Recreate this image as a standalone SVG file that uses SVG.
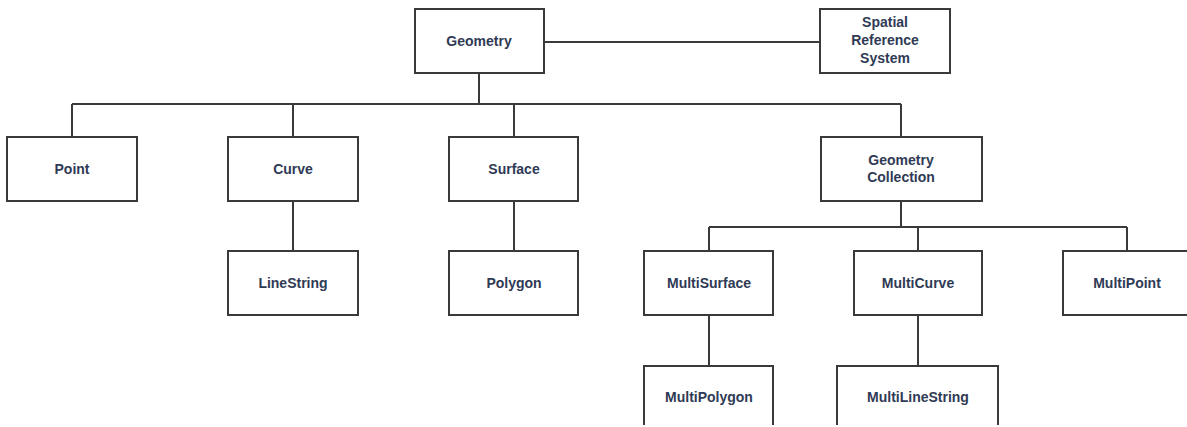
<svg xmlns="http://www.w3.org/2000/svg" width="1187" height="427" viewBox="0 0 1187 427">
<style>
.box{fill:#fff;stroke:#3a3a3a;stroke-width:2}
.edge{fill:none;stroke:#3a3a3a;stroke-width:2}
.lbl{font-family:"Liberation Sans",Arial,sans-serif;font-weight:bold;font-size:14px;fill:#2f3a55;text-anchor:middle;dominant-baseline:central}
</style>
<rect width="1187" height="427" fill="#fff"/>
<g id="connectors">
<path class="edge" d="M544 42H820"/>
<path class="edge" d="M479 73V104"/>
<path class="edge" d="M72 104H901"/>
<path class="edge" d="M72 104V137M293 104V137M514 104V137M901 104V137"/>
<path class="edge" d="M293 201V251M514 201V251"/>
<path class="edge" d="M901 201V227M709 227H1127M709 227V251M918 227V251M1127 227V251"/>
<path class="edge" d="M709 315V366M918 315V366"/>
</g>
<g id="geometry"><rect class="box" x="415" y="9" width="129" height="64"/><text class="lbl" x="479" y="41">Geometry</text></g>
<g id="srs"><rect class="box" x="820" y="9" width="130" height="64"/><text class="lbl" x="885" y="22">Spatial</text><text class="lbl" x="885" y="40">Reference</text><text class="lbl" x="885" y="58">System</text></g>
<g id="point"><rect class="box" x="7" y="137" width="130" height="64"/><text class="lbl" x="72" y="169">Point</text></g>
<g id="curve"><rect class="box" x="228" y="137" width="130" height="64"/><text class="lbl" x="293" y="169">Curve</text></g>
<g id="surface"><rect class="box" x="449" y="137" width="129" height="64"/><text class="lbl" x="514" y="169">Surface</text></g>
<g id="geometrycollection"><rect class="box" x="821" y="137" width="161" height="64"/><text class="lbl" x="901" y="160">Geometry</text><text class="lbl" x="901" y="177">Collection</text></g>
<g id="linestring"><rect class="box" x="228" y="251" width="130" height="64"/><text class="lbl" x="293" y="283">LineString</text></g>
<g id="polygon"><rect class="box" x="449" y="251" width="129" height="64"/><text class="lbl" x="514" y="283">Polygon</text></g>
<g id="multisurface"><rect class="box" x="644" y="251" width="129" height="64"/><text class="lbl" x="709" y="283">MultiSurface</text></g>
<g id="multicurve"><rect class="box" x="854" y="251" width="128" height="64"/><text class="lbl" x="918" y="283">MultiCurve</text></g>
<g id="multipoint"><rect class="box" x="1063" y="251" width="140" height="64"/><text class="lbl" x="1127" y="283">MultiPoint</text></g>
<g id="multipolygon"><path class="box" d="M644 425V366H773V425"/><text class="lbl" x="709" y="397">MultiPolygon</text></g>
<g id="multilinestring"><path class="box" d="M837 425V366H998V425"/><text class="lbl" x="918" y="397">MultiLineString</text></g>
</svg>
